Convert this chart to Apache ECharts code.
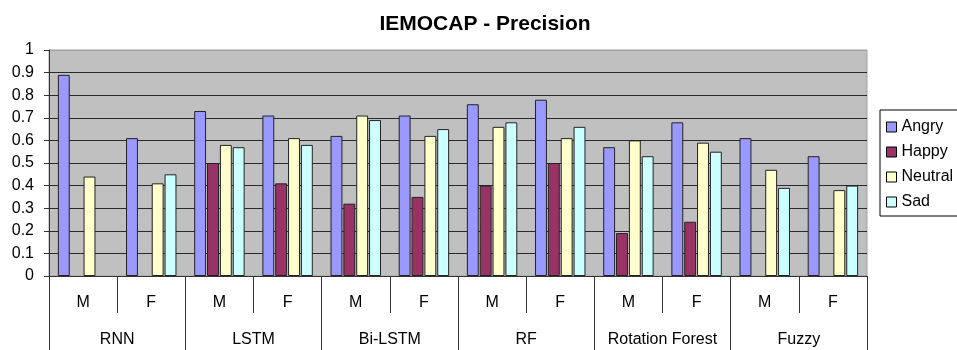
<!DOCTYPE html>
<html>
<head>
<meta charset="utf-8">
<script src="https://cdn.jsdelivr.net/npm/echarts@6/dist/echarts.min.js"></script>
<style>
  html, body { margin: 0; padding: 0; background: #fff; }
  #chart { width: 957px; height: 350px; }
</style>
</head>
<body>
<div id="chart"></div>
<script>
// Precision per emotion, for male (M) and female (F) speakers under each model
const models = ['RNN', 'LSTM', 'Bi-LSTM', 'RF', 'Rotation Forest', 'Fuzzy'];
const genders = ['M', 'F'];
const subCategories = models.flatMap(() => genders);

const angry   = [0.89, 0.61, 0.73, 0.71, 0.62, 0.71, 0.76, 0.78, 0.57, 0.68, 0.61, 0.53];
const happy   = [null, null, 0.50, 0.41, 0.32, 0.35, 0.40, 0.50, 0.19, 0.24, null, null];
const neutral = [0.44, 0.41, 0.58, 0.61, 0.71, 0.62, 0.66, 0.61, 0.60, 0.59, 0.47, 0.38];
const sad     = [null, 0.45, 0.57, 0.58, 0.69, 0.65, 0.68, 0.66, 0.53, 0.55, 0.39, 0.40];

const seriesDefs = [
  { name: 'Angry',   data: angry,   color: '#9999FF' },
  { name: 'Happy',   data: happy,   color: '#993366' },
  { name: 'Neutral', data: neutral, color: '#FFFFCC' },
  { name: 'Sad',     data: sad,     color: '#CCFFFF' }
];

const font = '"Liberation Sans", Arial, sans-serif';
const chart = echarts.init(document.getElementById('chart'), null, { renderer: 'canvas' });

// Grid lines: dark for 0..0.9, lighter at the top edge
const splitColors = ['#2a2a2a', '#2a2a2a', '#2a2a2a', '#2a2a2a', '#2a2a2a', '#2a2a2a',
                     '#2a2a2a', '#2a2a2a', '#2a2a2a', '#2a2a2a', '#a0a0a0'];

chart.setOption({
  backgroundColor: '#ffffff',
  animation: false,
  textStyle: { fontFamily: font },
  title: {
    text: 'IEMOCAP - Precision',
    left: 480,
    textAlign: 'center',
    top: 9,
    textStyle: { fontFamily: font, fontSize: 21, fontWeight: 'bold', color: '#000' }
  },
  legend: {
    orient: 'vertical',
    left: 880,
    top: 110,
    padding: [9, 30, 6, 6],
    itemGap: 9,
    itemWidth: 10,
    itemHeight: 10,
    icon: 'rect',
    borderColor: '#000',
    borderWidth: 1,
    itemStyle: { borderColor: '#000', borderWidth: 1 },
    textStyle: { fontFamily: font, fontSize: 16, color: '#000', lineHeight: 16 },
    data: seriesDefs.map(s => s.name)
  },
  grid: {
    left: 49,
    right: 90,
    top: 50,
    bottom: 74,
    show: true,
    backgroundColor: '#C0C0C0',
    borderColor: '#a0a0a0',
    borderWidth: 1
  },
  xAxis: [
    {
      type: 'category',
      data: subCategories,
      position: 'bottom',
      axisLine: { show: true, lineStyle: { color: '#333', width: 1 } },
      axisTick: { show: true, interval: 0, length: 37, lineStyle: { color: '#333' } },
      axisLabel: { interval: 0, margin: 19, fontFamily: font, fontSize: 16, color: '#000' }
    },
    {
      type: 'category',
      data: models,
      position: 'bottom',
      offset: 37,
      axisLine: { show: false },
      axisTick: { show: true, interval: 0, length: 40, lineStyle: { color: '#333' } },
      axisLabel: { interval: 0, margin: 19, fontFamily: font, fontSize: 16, color: '#000' }
    }
  ],
  yAxis: {
    type: 'value',
    min: 0,
    max: 1,
    interval: 0.1,
    axisLine: { show: true, lineStyle: { color: '#333' } },
    axisTick: { show: true, length: 5, lineStyle: { color: '#333' } },
    axisLabel: {
      margin: 15,
      fontFamily: font,
      fontSize: 16,
      color: '#000',
      formatter: v => String(Math.round(v * 10) / 10)
    },
    splitLine: { show: true, lineStyle: { color: splitColors, width: 1 } }
  },
  series: seriesDefs.map(s => ({
    name: s.name,
    type: 'bar',
    xAxisIndex: 0,
    data: s.data,
    barGap: '8%',
    barCategoryGap: '26%',
    itemStyle: { color: s.color, borderColor: '#222', borderWidth: 1 }
  }))
});
</script>
</body>
</html>
